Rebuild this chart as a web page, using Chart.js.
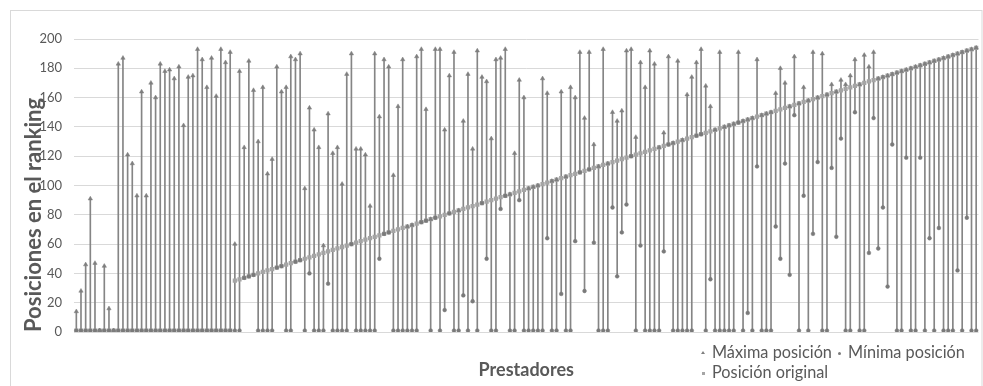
<!DOCTYPE html>
<html><head><meta charset="utf-8">
<script src="https://cdn.jsdelivr.net/npm/chart.js@4"></script>
<style>
html,body{margin:0;padding:0;background:#fff;}
#wrap{position:relative;width:983px;height:386px;overflow:hidden;}
canvas{position:absolute;left:0;top:0;}
.lg{position:absolute;font-family:Lato,"Open Sans",sans-serif;font-size:16.3px;color:#595959;white-space:nowrap;line-height:18px;}
.mk{position:absolute;}
</style></head>
<body><div id="wrap"><canvas id="c" width="983" height="386"></canvas></div>
<script>
// Prestadores (categories)
const categories = [
1,2,3,4,5,6,7,8,9,10,11,12,13,14,15,16,17,18,19,20,
21,22,23,24,25,26,27,28,29,30,31,32,33,34,35,36,37,38,39,40,
41,42,43,44,45,46,47,48,49,50,51,52,53,54,55,56,57,58,59,60,
61,62,63,64,65,66,67,68,69,70,71,72,73,74,75,76,77,78,79,80,
81,82,83,84,85,86,87,88,89,90,91,92,93,94,95,96,97,98,99,100,
101,102,103,104,105,106,107,108,109,110,111,112,113,114,115,116,117,118,119,120,
121,122,123,124,125,126,127,128,129,130,131,132,133,134,135,136,137,138,139,140,
141,142,143,144,145,146,147,148,149,150,151,152,153,154,155,156,157,158,159,160,
161,162,163,164,165,166,167,168,169,170,171,172,173,174,175,176,177,178,179,180,
181,182,183,184,185,186,187,188,189,190,191,192,193,194];

const seriesNames = ["Máxima posición", "Mínima posición", "Posición original"];

const maxPos = [
14,28,46,91,47,1,45,16,1,183,
187,121,115,93,164,93,170,160,183,178,
179,173,181,141,174,175,193,186,167,187,
161,193,184,191,60,178,126,185,165,130,
167,108,118,181,164,167,188,186,190,98,
153,138,126,59,149,122,126,101,176,190,
125,125,121,86,190,147,186,181,107,154,
186,72,73,188,193,152,77,193,193,138,
175,191,83,144,176,125,192,174,171,132,
186,187,193,94,122,172,160,98,99,100,
173,163,103,104,164,106,167,160,191,146,
191,128,113,193,115,150,144,151,192,193,
133,184,167,192,183,126,136,188,129,185,
131,162,174,184,193,168,154,138,191,140,
141,142,191,144,145,146,186,148,149,150,
163,180,170,154,188,156,167,158,191,160,
190,162,169,164,172,169,175,186,169,189,
181,191,173,174,175,176,177,178,179,180,
181,182,183,184,185,186,187,188,189,190,
191,192,193,194];

const minPos = [
1,1,1,1,1,1,1,1,1,1,
1,1,1,1,1,1,1,1,1,1,
1,1,1,1,1,1,1,1,1,1,
1,1,1,1,1,1,37,38,39,1,
1,1,1,44,45,1,1,48,49,1,
40,1,1,1,33,1,1,1,1,60,
1,1,1,1,1,50,67,68,1,1,
1,1,1,1,75,76,1,78,1,15,
81,1,1,25,1,21,1,88,50,1,
1,84,93,1,1,90,1,1,1,1,
1,64,1,1,26,1,1,62,109,28,
111,61,1,1,1,85,38,68,87,120,
1,59,1,1,1,1,55,128,1,1,
1,1,1,134,135,1,36,1,1,1,
1,1,143,1,13,1,113,1,1,1,
72,50,115,39,148,1,93,1,67,116,
1,1,112,65,132,1,1,150,1,1,
54,146,57,85,31,128,1,1,119,1,
1,119,1,64,1,71,1,1,1,42,
1,78,1,1];

const originalPos = [
1,1,1,1,1,1,1,1,1,1,
1,1,1,1,1,1,1,1,1,1,
1,1,1,1,1,1,1,1,1,1,
1,1,1,1,35,36,37,38,39,40,
41,42,43,44,45,46,47,48,49,50,
51,52,53,54,55,56,57,58,59,60,
61,62,63,64,65,66,67,68,69,70,
71,72,73,74,75,76,77,78,79,80,
81,82,83,84,85,86,87,88,89,90,
91,92,93,94,95,96,97,98,99,100,
101,102,103,104,105,106,107,108,109,110,
111,112,113,114,115,116,117,118,119,120,
121,122,123,124,125,126,127,128,129,130,
131,132,133,134,135,136,137,138,139,140,
141,142,143,144,145,146,147,148,149,150,
151,152,153,154,155,156,157,158,159,160,
161,162,163,164,165,166,167,168,169,170,
171,172,173,174,175,176,177,178,179,180,
181,182,183,184,185,186,187,188,189,190,
191,192,193,194];

const yTicks = [0,20,40,60,80,100,120,140,160,180,200];

const FONT = 'Lato';
const TXT = '#595959';

const frame = {
  id: 'frame',
  beforeDraw(chart) {
    const ctx = chart.ctx;
    ctx.save();
    ctx.fillStyle = '#ffffff';
    ctx.fillRect(0, 0, chart.width, chart.height);
    ctx.strokeStyle = '#d9d9d9';
    ctx.lineWidth = 1;
    ctx.strokeRect(10.5, 10.5, 971.5, 400);
    ctx.restore();
  }
};

const ranges = minPos.map((m, i) => [m, maxPos[i]]);

const chart = new Chart(document.getElementById('c'), {
  type: 'bar',
  data: {
    labels: categories,
    datasets: [
      { type: 'line', label: seriesNames[0], data: maxPos, showLine: false, order: 1,
        pointStyle: 'triangle', pointRadius: 2.5, pointBackgroundColor: '#7f7f7f', pointBorderColor: '#7f7f7f', pointBorderWidth: 0.5 },
      { type: 'line', label: seriesNames[1], data: minPos, showLine: false, order: 2,
        pointStyle: 'circle', pointRadius: 1.9, pointBackgroundColor: '#7a7a7a', pointBorderColor: '#7a7a7a', pointBorderWidth: 0.5 },
      { type: 'line', label: seriesNames[2], data: originalPos, showLine: false, order: 3,
        pointStyle: 'rect', pointRadius: 3, pointBackgroundColor: '#a5a5a5', pointBorderColor: '#a5a5a5', pointBorderWidth: 0 },
      { type: 'bar', label: 'rango', data: ranges, order: 4, barThickness: 1,
        backgroundColor: '#858585', borderWidth: 0 }
    ]
  },
  options: {
    responsive: false,
    devicePixelRatio: 1,
    animation: false,
    events: [],
    layout: { padding: { left: 10, top: 39, right: 1, bottom: 0 } },
    plugins: { legend: { display: false }, tooltip: { enabled: false } },
    scales: {
      x: {
        type: 'category', offset: true,
        grid: { display: false },
        border: { display: false },
        ticks: { display: false },
        title: { display: true, text: 'Prestadores', color: TXT,
          font: { family: FONT, size: 18, weight: 'bold' }, padding: { top: 4, bottom: 5 } },
        afterFit(s) { s.height = 54; }
      },
      y: {
        min: 0, max: 200,
        afterBuildTicks(s) { s.ticks = yTicks.map(v => ({ value: v })); },
        ticks: { color: TXT, font: { family: FONT, size: 13 }, padding: 12 },
        grid: { color: '#d9d9d9', drawTicks: false, lineWidth: 1 },
        border: { display: false },
        title: { display: true, text: 'Posiciones en el ranking', color: TXT, align: 'start',
          font: { family: FONT, size: 22, weight: 'bold' }, padding: { top: 11, bottom: 0 } },
        afterFit(s) { s.width = 64; }
      }
    }
  },
  plugins: [frame]
});

// Legend (HTML text), built from the dataset labels
const wrap = document.getElementById('wrap');
const items = [
  { ds: 0, x: 703, y: 352 },
  { ds: 1, x: 839, y: 352 },
  { ds: 2, x: 703, y: 372 }
];
items.forEach(it => {
  const ds = chart.data.datasets[it.ds];
  const mk = document.createElement('div');
  mk.className = 'mk';
  if (ds.pointStyle === 'triangle') {
    mk.style.cssText += 'left:' + (it.x - 2) + 'px;top:' + (it.y - 1) + 'px;width:0;height:0;border-left:2px solid transparent;border-right:2px solid transparent;border-bottom:3px solid ' + ds.pointBackgroundColor + ';';
  } else if (ds.pointStyle === 'circle') {
    mk.style.cssText += 'left:' + (it.x - 1.5) + 'px;top:' + (it.y - 0.5) + 'px;width:3px;height:3px;border-radius:50%;background:' + ds.pointBackgroundColor + ';';
  } else {
    mk.style.cssText += 'left:' + (it.x - 1.5) + 'px;top:' + (it.y - 0.5) + 'px;width:3px;height:3px;background:' + ds.pointBackgroundColor + ';';
  }
  wrap.appendChild(mk);
  const t = document.createElement('div');
  t.className = 'lg';
  t.textContent = ds.label;
  t.style.left = (it.x + 9) + 'px';
  t.style.top = (it.y - 9) + 'px';
  wrap.appendChild(t);
});
</script>
</body></html>
